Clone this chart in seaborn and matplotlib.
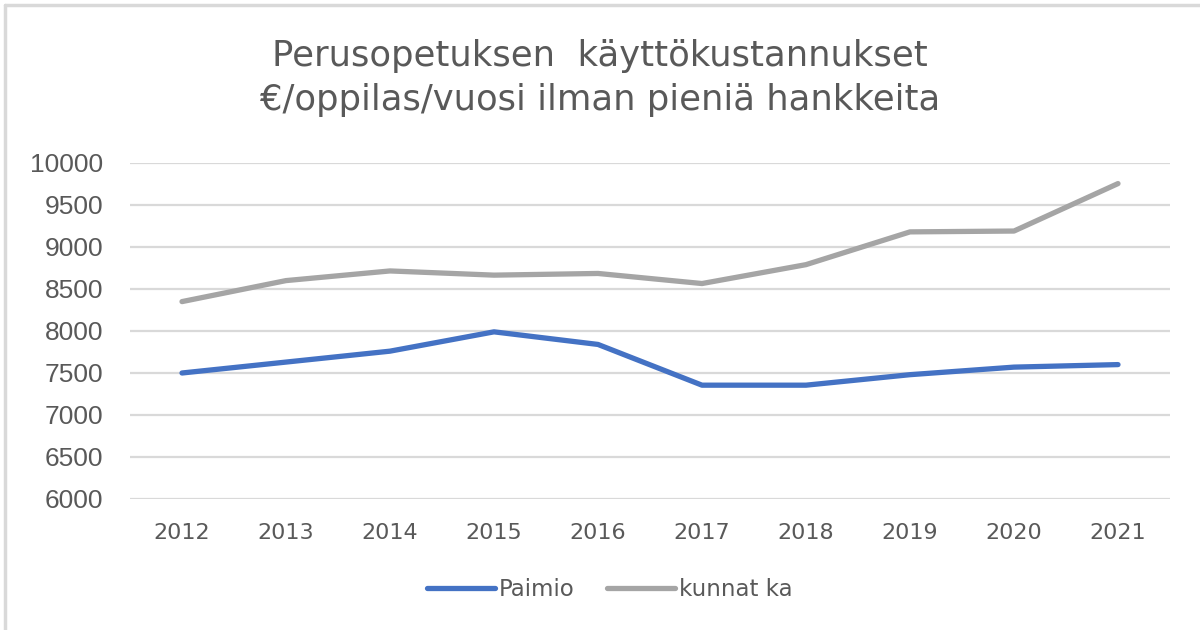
import numpy as np
import pandas as pd
import matplotlib
matplotlib.use('Agg')
import matplotlib.pyplot as plt
from matplotlib.lines import Line2D
import seaborn as sns

sns.set_style('white')
plt.rcParams['font.family'] = ['DejaVu Sans']

years = ['2012', '2013', '2014', '2015', '2016', '2017', '2018', '2019', '2020', '2021']
paimio = [7500, 7630, 7760, 7990, 7840, 7355, 7355, 7480, 7570, 7600]
kunnat_ka = [8350, 8600, 8715, 8665, 8685, 8565, 8790, 9180, 9190, 9755]
series_names = ['Paimio', 'kunnat ka']
colors = ['#4472C4', '#A5A5A5']

df = pd.DataFrame({
    'vuosi': years * 2,
    'arvo': paimio + kunnat_ka,
    'sarja': [series_names[0]] * len(years) + [series_names[1]] * len(years),
})

fig = plt.figure(figsize=(12, 6.3), dpi=100)
ax = fig.add_axes([130 / 1200, 1 - 499 / 630, 1040 / 1200, 336 / 630])

sns.lineplot(data=df, x='vuosi', y='arvo', hue='sarja', palette=colors,
             linewidth=3.8, ax=ax, legend=False, sort=False)
for line in ax.lines:
    line.set_solid_capstyle('round')
    line.set_solid_joinstyle('round')

ax.set_xlim(-0.5, len(years) - 0.5)
ax.set_ylim(6000, 10000)
ax.set_yticks(np.arange(6000, 10001, 500))
ax.grid(axis='y', color='#D9D9D9', linewidth=1.6)
ax.grid(axis='x', visible=False)
ax.set_axisbelow(True)
sns.despine(ax=ax, left=True, bottom=True)
ax.set_xlabel('')
ax.set_ylabel('')
ax.tick_params(axis='both', length=0)
ax.tick_params(axis='y', pad=19, labelsize=19, labelcolor='#595959')
ax.tick_params(axis='x', pad=17, labelsize=16, labelcolor='#595959')
for lab in ax.get_yticklabels():
    lab.set_fontfamily('Liberation Sans')

fig.suptitle('Perusopetuksen  käyttökustannukset\n€/oppilas/vuosi ilman pieniä hankkeita',
             x=0.5, y=1 - 78 / 630, va='center', fontsize=25.5, color='#595959',
             linespacing=1.38)

handles = [Line2D([0], [0], color=c, linewidth=3.8, solid_capstyle='round') for c in colors]
leg = fig.legend(handles, series_names, loc='center', bbox_to_anchor=(0.508, 1 - 590 / 630),
                 ncol=2, frameon=False, fontsize=16.5, handlelength=3.0,
                 handletextpad=0.15, columnspacing=1.4)
for t in leg.get_texts():
    t.set_color('#595959')

# light frame around the chart
fig.add_artist(Line2D([5 / 1200, 5 / 1200], [0, 1 - 5 / 630], transform=fig.transFigure,
                      color='#D9D9D9', linewidth=2.5))
fig.add_artist(Line2D([5 / 1200, 1], [1 - 5 / 630, 1 - 5 / 630], transform=fig.transFigure,
                      color='#D9D9D9', linewidth=2.5))

fig.savefig('out.png', dpi=100)
